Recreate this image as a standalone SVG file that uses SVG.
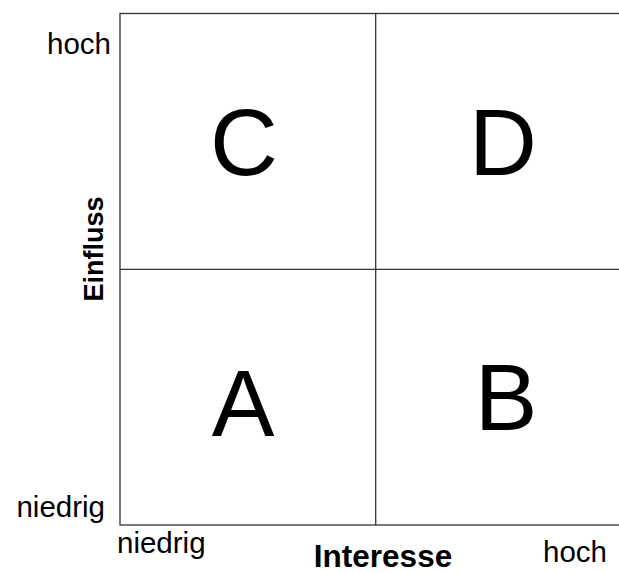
<svg xmlns="http://www.w3.org/2000/svg" width="619" height="573" viewBox="0 0 619 573">
<style>
.lbl{font-family:"Liberation Sans",Arial,sans-serif;font-size:29.5px;fill:#000}
.ax{font-family:"Liberation Sans",Arial,sans-serif;font-size:31.5px;font-weight:bold;fill:#000}
.ay{font-family:"Liberation Sans",Arial,sans-serif;font-size:27px;font-weight:bold;fill:#000}
.big{font-family:"Liberation Sans",Arial,sans-serif;font-size:94px;fill:#000;text-anchor:middle}
.ln{stroke:#333;stroke-width:1.3;fill:none}
</style>
<rect width="619" height="573" fill="#fff"/>
<g id="connectors">
<rect class="ln" x="120" y="13.5" width="512" height="511.5"/>
<line class="ln" x1="375.7" y1="13.5" x2="375.7" y2="525"/>
<line class="ln" x1="120" y1="269.3" x2="632" y2="269.3"/>
</g>
<g id="quadC"><text class="big" x="244" y="175">C</text></g>
<g id="quadD"><text class="big" x="503" y="175">D</text></g>
<g id="quadA"><text class="big" x="243" y="436">A</text></g>
<g id="quadB"><text class="big" x="506" y="430">B</text></g>
<g id="labels">
<text class="lbl" x="111" y="54" text-anchor="end">hoch</text>
<text class="lbl" x="105" y="517" text-anchor="end">niedrig</text>
<text class="lbl" x="117" y="553">niedrig</text>
<text class="lbl" x="607" y="562" text-anchor="end">hoch</text>
<text class="ax" x="383" y="567" text-anchor="middle">Interesse</text>
<text class="ay" transform="translate(103,249) rotate(-90)" text-anchor="middle">Einfluss</text>
</g>
</svg>
